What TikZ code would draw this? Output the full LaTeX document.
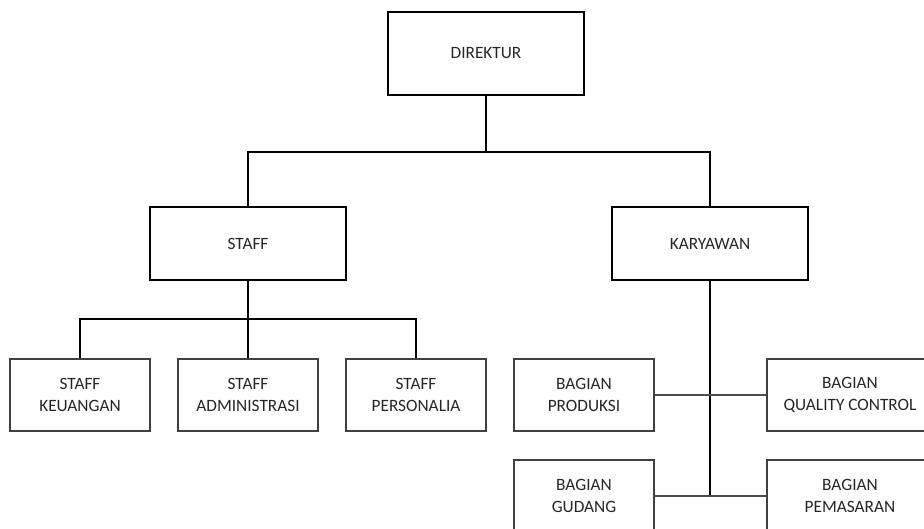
\documentclass[tikz,border=0pt]{standalone}
\usepackage{fontspec}
\setmainfont{Carlito}
\begin{document}
\begin{tikzpicture}[x=1pt,y=1pt,
  boxa/.style={draw=black,line width=1.1pt,minimum width=196pt,minimum height=73pt,inner sep=0pt,align=center,font=\fontsize{17.3}{22}\selectfont,text=black!85},
  boxb/.style={draw=black!75,line width=1.1pt,minimum width=140pt,minimum height=72pt,inner sep=0pt,align=center,font=\fontsize{17.3}{22}\selectfont,text=black!85},
  link/.style={draw=black,line width=1.1pt},
  linkg/.style={draw=black!70,line width=1.1pt}]
\useasboundingbox (0,0) rectangle (924,-529);
\clip (0,0) rectangle (924,-529);
\node[boxa,minimum height=83pt] (dir) at (486,-53.5) {DIREKTUR};
\node[boxa] (staff) at (248,-243.5) {STAFF};
\node[boxa] (kary) at (710,-243.5) {KARYAWAN};
\node[boxb] (keu) at (80,-395) {STAFF\\KEUANGAN};
\node[boxb] (adm) at (248,-395) {STAFF\\ADMINISTRASI};
\node[boxb] (per) at (416,-395) {STAFF\\PERSONALIA};
\node[boxb] (prod) at (584,-395) {BAGIAN\\PRODUKSI};
\node[boxb,minimum width=166pt] (qc) at (850,-395) {BAGIAN\\QUALITY CONTROL};
\node[boxb] (gud) at (584,-496) {BAGIAN\\GUDANG};
\node[boxb,minimum width=166pt] (pem) at (850,-496) {BAGIAN\\PEMASARAN};
\coordinate (bar) at (486,-152);
\coordinate (sbar) at (248,-319);
\coordinate (kend) at (710,-497);
\draw[link] (dir.south) -- (bar);
\draw[link] (staff.north) |- (bar) -| (kary.north);
\draw[link] (staff.south) -- (adm.north);
\draw[link] (keu.north) |- (sbar) -| (per.north);
\draw[link] (kary.south) -- (kend);
\draw[linkg] (prod.east) -- (qc.west);
\draw[linkg] (gud.east) -- (pem.west);
\end{tikzpicture}
\end{document}
